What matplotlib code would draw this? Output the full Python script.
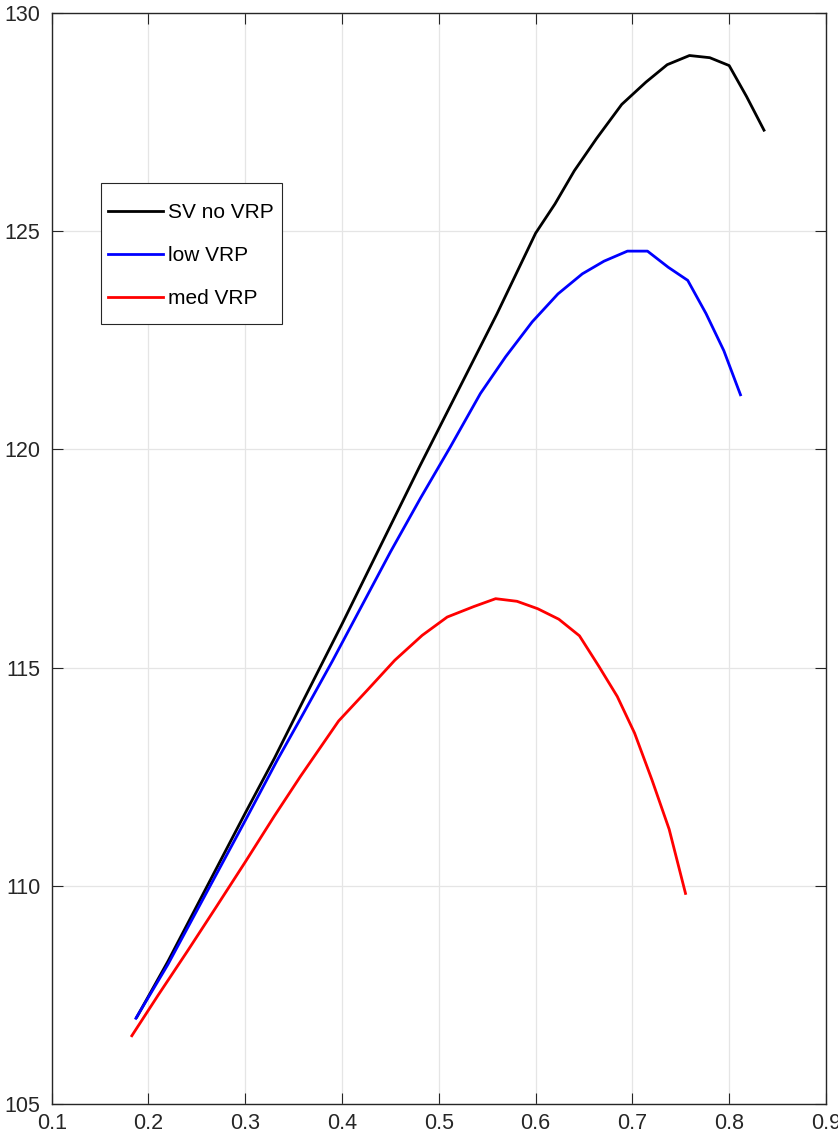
import matplotlib
matplotlib.use("Agg")
import matplotlib.pyplot as plt
from matplotlib.patches import Rectangle

plt.rcParams['font.family'] = ['Liberation Sans', 'DejaVu Sans']

# SV no VRP
x_sv = [0.188, 0.22, 0.26, 0.30, 0.33, 0.36, 0.40, 0.44, 0.48, 0.52, 0.56,
        0.60, 0.62, 0.64, 0.663, 0.689, 0.714, 0.736, 0.759, 0.780, 0.800,
        0.818, 0.836]
y_sv = [107.00, 108.27, 109.97, 111.67, 112.92, 114.25, 116.00, 117.80,
        119.60, 121.35, 123.10, 124.95, 125.62, 126.38, 127.12, 127.90,
        128.41, 128.81, 129.02, 128.97, 128.79, 128.08, 127.31]

# low VRP
x_low = [0.187, 0.22, 0.26, 0.30, 0.333, 0.357, 0.39, 0.42, 0.45, 0.481,
         0.512, 0.543, 0.569, 0.5965, 0.6231, 0.6483, 0.6707, 0.6949,
         0.7156, 0.7371, 0.7572, 0.7761, 0.7945, 0.8117]
y_low = [106.97, 108.20, 109.85, 111.50, 112.88, 113.83, 115.15, 116.40,
         117.65, 118.88, 120.06, 121.28, 122.12, 122.92, 123.56, 124.02,
         124.31, 124.54, 124.54, 124.17, 123.87, 123.11, 122.26, 121.25]

# med VRP
x_med = [0.1828, 0.21, 0.24, 0.27, 0.30, 0.33, 0.357, 0.3965, 0.4259,
         0.4545, 0.4828, 0.5087, 0.5362, 0.5587, 0.5808, 0.6022, 0.624,
         0.6453, 0.6654, 0.6844, 0.7023, 0.7204, 0.738, 0.7549]
y_med = [106.57, 107.50, 108.50, 109.52, 110.55, 111.60, 112.51, 113.78,
         114.48, 115.17, 115.74, 116.16, 116.40, 116.58, 116.52, 116.35,
         116.11, 115.73, 115.03, 114.34, 113.50, 112.42, 111.30, 109.83]

fig = plt.figure(figsize=(8.38, 11.36), dpi=100)
ax = fig.add_axes([0.0617, 0.0279, 0.9239, 0.9609])

ax.plot(x_sv, y_sv, color='black', lw=2.0, label='SV no VRP')
ax.plot(x_low, y_low, color='blue', lw=2.0, label='low VRP')
ax.plot(x_med, y_med, color='red', lw=2.0, label='med VRP')

ax.set_xlim(0.1, 0.9)
ax.set_ylim(105, 130)
ax.set_xticks([0.1, 0.2, 0.3, 0.4, 0.5, 0.6, 0.7, 0.8, 0.9])
ax.set_xticklabels(['0.1', '0.2', '0.3', '0.4', '0.5', '0.6', '0.7', '0.8', '0.9'])
ax.set_yticks([105, 110, 115, 120, 125, 130])

ax.grid(True, color='#e5e5e5', lw=0.9)
ax.set_axisbelow(True)
for s in ax.spines.values():
    s.set_color('#262626')
    s.set_linewidth(1.0)
ax.tick_params(direction='in', length=8, width=0.8, color='#262626',
               top=True, right=True, labelsize=15.5, labelcolor='#262626')
ax.tick_params(axis='y', pad=8)
ax.tick_params(axis='x', pad=6)

# legend box drawn by hand, MATLAB style (tall rows, tight sides)
box = Rectangle((0.0639, 0.7146), 0.2336, 0.1291, transform=ax.transAxes,
                facecolor='white', edgecolor='#262626', lw=0.8, zorder=4)
ax.add_patch(box)
leg = ax.legend(loc='upper left', bbox_to_anchor=(0.0733, 0.8256),
                borderaxespad=0, fontsize=15, handlelength=2.6,
                handletextpad=0.25, labelspacing=1.15, borderpad=0,
                frameon=False)
leg.set_zorder(5)

fig.savefig('out.png', dpi=100)
